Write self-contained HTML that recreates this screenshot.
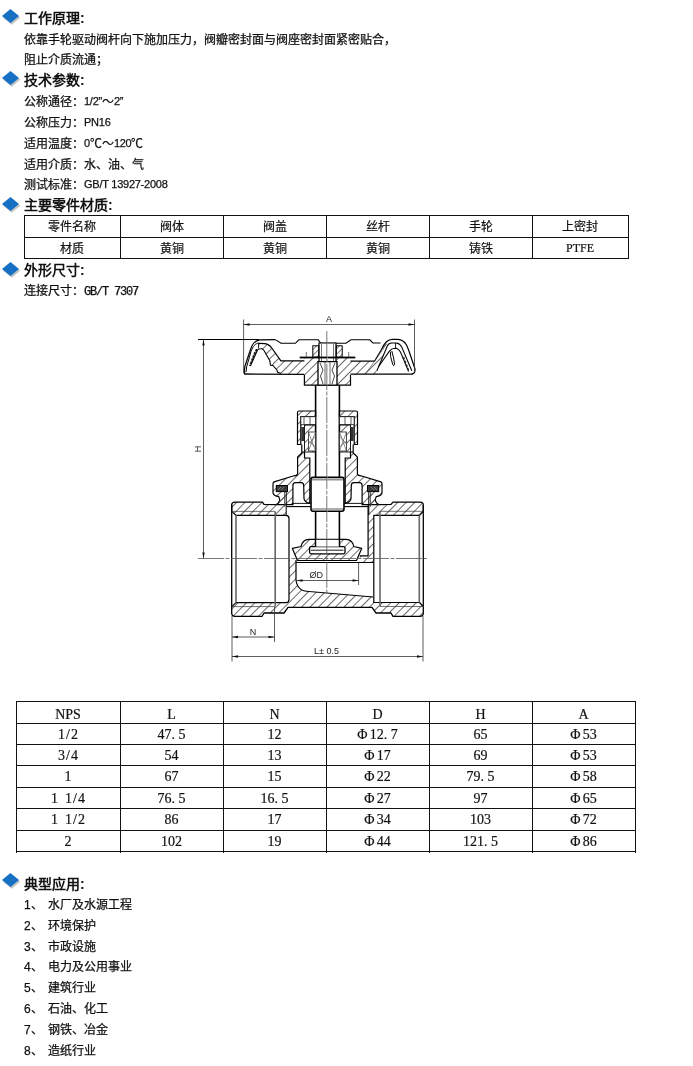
<!DOCTYPE html>
<html lang="zh-CN"><head><meta charset="utf-8">
<style>
html,body{margin:0;padding:0;background:#fff;}
body{will-change:transform;width:693px;height:1066px;position:relative;overflow:hidden;font-family:"Liberation Sans",sans-serif;color:#222;}
.t{position:absolute;white-space:nowrap;font-size:12px;line-height:16px;color:#111;-webkit-text-stroke:0.25px #111;}
.h{position:absolute;white-space:nowrap;font-size:14px;line-height:18px;font-weight:bold;color:#111;}
.dm{position:absolute;left:2px;width:17px;height:14px;}
.dm svg{display:block;overflow:visible}
table.m{position:absolute;border-collapse:collapse;font-size:12px;}
table.m td{border:1px solid #111;text-align:center;padding:0;}
.ln{position:absolute;background:#111;}
.c{position:absolute;text-align:center;font-size:12px;line-height:21px;white-space:nowrap;color:#111;-webkit-text-stroke:0.2px #111;}
.c2{position:absolute;text-align:center;font-size:14px;line-height:21px;white-space:pre;font-family:"Liberation Serif",serif;color:#111;-webkit-text-stroke:0.2px #111;}
.sm{font-family:"Liberation Mono",monospace;font-size:12px;letter-spacing:-1.2px;}
.ph{margin-right:2.5px}
.lat{font-size:11px;letter-spacing:-0.25px;position:relative;top:-1px}
.sl{margin:0 1px}
.ser{font-family:"Liberation Mono",monospace;}
</style></head><body>

<div class="dm" style="top:9px"><svg width="17" height="14"><polygon points="9.7,1.8 18.2,8.8 9.7,15.8 1.2,8.8" fill="#c4c4c4"/><polygon points="8.5,0 17,7 8.5,14 0,7" fill="#1670c4"/></svg></div>
<div class="h" style="left:24px;top:9px">工作原理:</div>
<div class="t" style="left:24px;top:32px">依靠手轮驱动阀杆向下施加压力，阀瓣密封面与阀座密封面紧密贴合，</div>
<div class="t" style="left:24px;top:52px">阻止介质流通；</div>

<div class="dm" style="top:71px"><svg width="17" height="14"><polygon points="9.7,1.8 18.2,8.8 9.7,15.8 1.2,8.8" fill="#c4c4c4"/><polygon points="8.5,0 17,7 8.5,14 0,7" fill="#1670c4"/></svg></div>
<div class="h" style="left:24px;top:71px">技术参数:</div>
<div class="t" style="left:24px;top:94px">公称通径：<span class="lat">1/2”</span>～<span class="lat">2”</span></div>
<div class="t" style="left:24px;top:115px">公称压力：<span class="lat">PN16</span></div>
<div class="t" style="left:24px;top:136px">适用温度：<span class="lat">0</span>℃～<span class="lat">120</span>℃</div>
<div class="t" style="left:24px;top:157px">适用介质：水、油、气</div>
<div class="t" style="left:24px;top:177px">测试标准：<span class="lat">GB/T 13927-2008</span></div>

<div class="dm" style="top:197px"><svg width="17" height="14"><polygon points="9.7,1.8 18.2,8.8 9.7,15.8 1.2,8.8" fill="#c4c4c4"/><polygon points="8.5,0 17,7 8.5,14 0,7" fill="#1670c4"/></svg></div>
<div class="h" style="left:24px;top:196px">主要零件材质:</div>

<div class="dm" style="top:262px"><svg width="17" height="14"><polygon points="9.7,1.8 18.2,8.8 9.7,15.8 1.2,8.8" fill="#c4c4c4"/><polygon points="8.5,0 17,7 8.5,14 0,7" fill="#1670c4"/></svg></div>
<div class="h" style="left:24px;top:261px">外形尺寸:</div>
<div class="t" style="left:24px;top:283px">连接尺寸：<span class="sm">GB/T 7307</span></div>

<div class="dm" style="top:873px"><svg width="17" height="14"><polygon points="9.7,1.8 18.2,8.8 9.7,15.8 1.2,8.8" fill="#c4c4c4"/><polygon points="8.5,0 17,7 8.5,14 0,7" fill="#1670c4"/></svg></div>
<div class="h" style="left:24px;top:875px">典型应用:</div>
<div class="t" style="left:24px;top:897px">1、</div><div class="t" style="left:48px;top:897px">水厂及水源工程</div>
<div class="t" style="left:24px;top:918px">2、</div><div class="t" style="left:48px;top:918px">环境保护</div>
<div class="t" style="left:24px;top:939px">3、</div><div class="t" style="left:48px;top:939px">市政设施</div>
<div class="t" style="left:24px;top:959px">4、</div><div class="t" style="left:48px;top:959px">电力及公用事业</div>
<div class="t" style="left:24px;top:980px">5、</div><div class="t" style="left:48px;top:980px">建筑行业</div>
<div class="t" style="left:24px;top:1001px">6、</div><div class="t" style="left:48px;top:1001px">石油、化工</div>
<div class="t" style="left:24px;top:1022px">7、</div><div class="t" style="left:48px;top:1022px">钢铁、冶金</div>
<div class="t" style="left:24px;top:1043px">8、</div><div class="t" style="left:48px;top:1043px">造纸行业</div>

<!--TABLES-->
<div class="ln" style="left:24px;top:215px;width:1px;height:44px"></div>
<div class="ln" style="left:120px;top:215px;width:1px;height:44px"></div>
<div class="ln" style="left:223px;top:215px;width:1px;height:44px"></div>
<div class="ln" style="left:326px;top:215px;width:1px;height:44px"></div>
<div class="ln" style="left:429px;top:215px;width:1px;height:44px"></div>
<div class="ln" style="left:532px;top:215px;width:1px;height:44px"></div>
<div class="ln" style="left:628px;top:215px;width:1px;height:44px"></div>
<div class="ln" style="left:24px;top:215px;width:605px;height:1px"></div>
<div class="ln" style="left:24px;top:237px;width:605px;height:1px"></div>
<div class="ln" style="left:24px;top:258px;width:605px;height:1px"></div>
<div class="c" style="left:24px;top:217px;width:96px">零件名称</div>
<div class="c" style="left:24px;top:238.5px;width:96px">材质</div>
<div class="c" style="left:120px;top:217px;width:103px">阀体</div>
<div class="c" style="left:120px;top:238.5px;width:103px">黄铜</div>
<div class="c" style="left:223px;top:217px;width:103px">阀盖</div>
<div class="c" style="left:223px;top:238.5px;width:103px">黄铜</div>
<div class="c" style="left:326px;top:217px;width:103px">丝杆</div>
<div class="c" style="left:326px;top:238.5px;width:103px">黄铜</div>
<div class="c" style="left:429px;top:217px;width:103px">手轮</div>
<div class="c" style="left:429px;top:238.5px;width:103px">铸铁</div>
<div class="c" style="left:532px;top:217px;width:96px">上密封</div>
<div class="c" style="left:532px;top:238.5px;width:96px"><span style="font-family:'Liberation Serif',serif;font-size:12px;position:relative;top:-1px">PTFE</span></div>
<div class="ln" style="left:16px;top:701px;width:1px;height:152px"></div>
<div class="ln" style="left:120px;top:701px;width:1px;height:152px"></div>
<div class="ln" style="left:223px;top:701px;width:1px;height:152px"></div>
<div class="ln" style="left:326px;top:701px;width:1px;height:152px"></div>
<div class="ln" style="left:429px;top:701px;width:1px;height:152px"></div>
<div class="ln" style="left:532px;top:701px;width:1px;height:152px"></div>
<div class="ln" style="left:635px;top:701px;width:1px;height:152px"></div>
<div class="ln" style="left:16px;top:701px;width:620px;height:1px"></div>
<div class="ln" style="left:16px;top:723px;width:620px;height:1px"></div>
<div class="ln" style="left:16px;top:744px;width:620px;height:1px"></div>
<div class="ln" style="left:16px;top:765px;width:620px;height:1px"></div>
<div class="ln" style="left:16px;top:787px;width:620px;height:1px"></div>
<div class="ln" style="left:16px;top:808px;width:620px;height:1px"></div>
<div class="ln" style="left:16px;top:830px;width:620px;height:1px"></div>
<div class="ln" style="left:16px;top:851px;width:620px;height:1px"></div>
<div class="c2" style="left:16px;top:704px;width:104px">NPS</div>
<div class="c2" style="left:120px;top:704px;width:103px">L</div>
<div class="c2" style="left:223px;top:704px;width:103px">N</div>
<div class="c2" style="left:326px;top:704px;width:103px">D</div>
<div class="c2" style="left:429px;top:704px;width:103px">H</div>
<div class="c2" style="left:532px;top:704px;width:103px">A</div>
<div class="c2" style="left:16px;top:724px;width:104px">1<span class="sl">/</span>2</div>
<div class="c2" style="left:120px;top:724px;width:103px">47. 5</div>
<div class="c2" style="left:223px;top:724px;width:103px">12</div>
<div class="c2" style="left:326px;top:724px;width:103px"><span class="ph">Φ</span>12. 7</div>
<div class="c2" style="left:429px;top:724px;width:103px">65</div>
<div class="c2" style="left:532px;top:724px;width:103px"><span class="ph">Φ</span>53</div>
<div class="c2" style="left:16px;top:745px;width:104px">3<span class="sl">/</span>4</div>
<div class="c2" style="left:120px;top:745px;width:103px">54</div>
<div class="c2" style="left:223px;top:745px;width:103px">13</div>
<div class="c2" style="left:326px;top:745px;width:103px"><span class="ph">Φ</span>17</div>
<div class="c2" style="left:429px;top:745px;width:103px">69</div>
<div class="c2" style="left:532px;top:745px;width:103px"><span class="ph">Φ</span>53</div>
<div class="c2" style="left:16px;top:766px;width:104px">1</div>
<div class="c2" style="left:120px;top:766px;width:103px">67</div>
<div class="c2" style="left:223px;top:766px;width:103px">15</div>
<div class="c2" style="left:326px;top:766px;width:103px"><span class="ph">Φ</span>22</div>
<div class="c2" style="left:429px;top:766px;width:103px">79. 5</div>
<div class="c2" style="left:532px;top:766px;width:103px"><span class="ph">Φ</span>58</div>
<div class="c2" style="left:16px;top:788px;width:104px">1  1<span class="sl">/</span>4</div>
<div class="c2" style="left:120px;top:788px;width:103px">76. 5</div>
<div class="c2" style="left:223px;top:788px;width:103px">16. 5</div>
<div class="c2" style="left:326px;top:788px;width:103px"><span class="ph">Φ</span>27</div>
<div class="c2" style="left:429px;top:788px;width:103px">97</div>
<div class="c2" style="left:532px;top:788px;width:103px"><span class="ph">Φ</span>65</div>
<div class="c2" style="left:16px;top:809px;width:104px">1  1<span class="sl">/</span>2</div>
<div class="c2" style="left:120px;top:809px;width:103px">86</div>
<div class="c2" style="left:223px;top:809px;width:103px">17</div>
<div class="c2" style="left:326px;top:809px;width:103px"><span class="ph">Φ</span>34</div>
<div class="c2" style="left:429px;top:809px;width:103px">103</div>
<div class="c2" style="left:532px;top:809px;width:103px"><span class="ph">Φ</span>72</div>
<div class="c2" style="left:16px;top:831px;width:104px">2</div>
<div class="c2" style="left:120px;top:831px;width:103px">102</div>
<div class="c2" style="left:223px;top:831px;width:103px">19</div>
<div class="c2" style="left:326px;top:831px;width:103px"><span class="ph">Φ</span>44</div>
<div class="c2" style="left:429px;top:831px;width:103px">121. 5</div>
<div class="c2" style="left:532px;top:831px;width:103px"><span class="ph">Φ</span>86</div>
<!--/TABLES-->
<!--DRAWING-->
<svg style="position:absolute;left:0;top:0" width="693" height="1066" viewBox="0 0 693 1066">
<defs>
<pattern id="hx" width="6" height="6" patternUnits="userSpaceOnUse" patternTransform="rotate(45)"><line x1="0.5" y1="-1" x2="0.5" y2="7" stroke="#3a3a3a" stroke-width="0.75"/></pattern>
<pattern id="hx2" width="4" height="4" patternUnits="userSpaceOnUse" patternTransform="rotate(45)"><line x1="0.5" y1="-1" x2="0.5" y2="5" stroke="#444" stroke-width="0.7"/></pattern>
</defs>
<!-- left hatched spoke + web + hub -->
<path d="M258.6,343.3 L265,343.6 C268,344 270,345.5 272.1,348.5 L280.9,360.8 L304.4,360.8 L304.4,357.5 L327.5,357.5 L327.5,385.2 L304.4,385.2 L304.4,374.9 L280.9,373.6 L277.7,372.3 L276.9,370 L272.9,365.5 L270.5,365.2 L269.7,360.4 L263,350 Q261.8,348.6 258.6,348.5 Z" fill="url(#hx)" stroke="none"/>
<path d="M258.6,343.3 L265,343.6 C268,344 270,345.5 272.1,348.5 L280.9,360.8 L304.4,360.8 M304.4,374.9 L304.4,385.2 L327.5,385.2" fill="none" stroke="#000" stroke-width="1.2"/>
<path d="M250.7,365.2 L257.5,350 Q258.5,348.5 261.8,348.7 Q263,349 264,350.5 L269.7,360.4 L270.5,365.2 L272.9,365.5 L276.9,370 L277.7,372.3 L280.9,373.4" fill="none" stroke="#000" stroke-width="1.1"/>
<line x1="258.6" y1="343.3" x2="258.6" y2="348.5" stroke="#000" stroke-width="0.9"/>
<!-- rim -->
<path d="M275.3,339.6 L259.4,339.8 C255.5,340.5 252.5,343 250.5,349.5 L245,366 Q244.2,369 244.3,373.9" fill="none" stroke="#000" stroke-width="1.2"/>
<path d="M259,343 C255,343.6 253,346 251,351.5 L246.7,366.7 L245.9,372.3" fill="none" stroke="#000" stroke-width="1"/>
<path d="M257,349.3 C254.5,353 252.5,359 249.9,366" fill="none" stroke="#111" stroke-width="1.9" stroke-dasharray="2.6 0.8"/>
<line x1="244" y1="374" x2="304.4" y2="374.3" stroke="#000" stroke-width="1.3"/>

<!-- top profile line -->
<path d="M275.3,339.6 L281,343.3 L295.4,343.3 L298.9,339.8 L318.2,339.8 L320.8,343.3 L345.9,343.3 L351,339.8 L369.8,339.8 L372.9,343 L380.5,343" fill="none" stroke="#000" stroke-width="1.1"/>
<!-- right hatched web + spoke -->
<path d="M327.5,357.5 L350.5,357.5 L350.5,361.2 L374.5,361.2 L380.9,350.9 L384.8,343.7 L388.8,343.7 L376.9,370.7 L375.5,374 L350.5,374.6 L350.5,385.2 L327.5,385.2 Z" fill="url(#hx)" stroke="none"/>
<path d="M350.5,361.2 L374.5,361.2 M350.5,374.9 L350.5,385.2 L327.5,385.2" fill="none" stroke="#000" stroke-width="1.2"/>
<line x1="350.5" y1="374.2" x2="412.5" y2="374.2" stroke="#000" stroke-width="1.3"/>
<!-- right rim -->
<path d="M374.5,361.2 L381.5,349.5 C383.5,345 386.5,339.4 392,339.4 L396.7,339.4 C401,339.4 404.5,341.5 406.5,345 C408,348 409,351 410.5,355.5 L415,369 Q415.5,373.9 411.5,374" fill="none" stroke="#000" stroke-width="1.2"/>
<path d="M376.9,370.7 L387.3,346 Q388.8,343 391.5,343 L396,343 Q399.5,343.2 401.5,346.5 L411.8,370.7" fill="none" stroke="#000" stroke-width="1.05"/>
<path d="M378.5,366.7 L389.6,350.9 Q392,348.3 395.2,348.3 Q398.5,348.5 400.7,352.5 L408.6,371.5" fill="none" stroke="#000" stroke-width="1.05"/>
<path d="M390.4,351.7 Q390,356 392,362 Q393.5,367.5 394.6,364.5 Q394,358 391.8,351" fill="none" stroke="#000" stroke-width="1"/>
<path d="M403.5,357 L408.5,370" fill="none" stroke="#222" stroke-width="1.3" stroke-dasharray="2.5 1.5"/>
<line x1="395.6" y1="343" x2="395.6" y2="348.3" stroke="#000" stroke-width="0.9"/>
<line x1="366.6" y1="372.3" x2="386" y2="345" stroke="#444" stroke-width="0.6"/>

<!-- nut -->
  <path d="M327.5,343 L319,343 L319,361.7 L327.5,361.7" fill="#fff" stroke="#000" stroke-width="1.2"/>
  <line x1="321.5" y1="343.5" x2="321.5" y2="361" stroke="#555" stroke-width="0.8"/>
  <!-- washer box -->
  <rect x="312.8" y="345.8" width="5.9" height="11.4" fill="url(#hx2)" stroke="#000" stroke-width="1"/>
  <!-- plate -->
  <line x1="299.7" y1="357.5" x2="327.5" y2="357.5" stroke="#000" stroke-width="1.8"/>
  <line x1="306.3" y1="352" x2="306.3" y2="357" stroke="#333" stroke-width="0.7"/>
  <!-- square stem end with knurl -->
  <path d="M327.5,361.7 L318,361.7 L318,385.2 L327.5,385.2" fill="#fff" stroke="#000" stroke-width="1.3"/>
  <path d="M320,363 L323,370 L320.5,376 L323,384" fill="none" stroke="#333" stroke-width="0.9"/>
  <line x1="325" y1="362" x2="325" y2="385" stroke="#444" stroke-width="0.8"/>
  <!-- stem -->
  <line x1="315.6" y1="385.2" x2="315.6" y2="477.5" stroke="#000" stroke-width="1.6"/>
  <!-- gland nut -->
  <path d="M297.5,444.5 L297.5,412.5 Q297.5,411 299,411 L315.6,411 L315.6,416.7 L300.8,416.7 L300.8,444.5 Z" fill="url(#hx)" stroke="#000" stroke-width="1.2"/>
  <rect x="300.8" y="416.7" width="14.8" height="8" fill="#fff" stroke="#222" stroke-width="0.9"/>
  <line x1="304" y1="417" x2="304" y2="424.5" stroke="#333" stroke-width="0.8"/>
  <line x1="310" y1="417" x2="310" y2="424.5" stroke="#333" stroke-width="0.8"/>
  <rect x="301.3" y="427" width="2.8" height="14" fill="#333"/>
  <path d="M304.5,425 L304.5,452 L315.6,452 L315.6,425 Z" fill="url(#hx)" stroke="#000" stroke-width="0.9"/>
  <rect x="308.5" y="432" width="7" height="19" fill="#fff" stroke="#222" stroke-width="0.8"/>
  <path d="M308.5,432 L315.5,451 M315.5,432 L308.5,451 M308.5,441 L315.5,447 M315.5,436 L308.5,444" stroke="#444" stroke-width="0.6"/>
  <!-- bonnet -->
  <path d="M301.8,444.5 L301.8,453 L297.6,457 L297.6,474 Q297,475.8 294,475.8 L274.1,481.9 Q273,482.5 273,484 L273,493 Q274,496 278.8,496.7 Q280,499 279.5,501 Q278,504.3 276,504.6 L292.9,504.6 L292.9,485.5 Q292.9,482.6 295.5,482.6 L301.5,482.6 Q303.7,483 303.7,485.5 L304,498.9 Q305,502.5 309.8,503.2 L309.8,458 L304.5,458 L304.5,452 L301.8,452 Z" fill="url(#hx)" stroke="#000" stroke-width="1.2"/>
  <rect x="276.3" y="485.5" width="11.2" height="6.1" fill="#3a3a3a" stroke="#000" stroke-width="1"/>
  <path d="M278,490 L281,487 M281,490 L284,487" stroke="#aaa" stroke-width="0.6"/>
  <line x1="286.2" y1="491.6" x2="286.2" y2="515" stroke="#000" stroke-width="1"/>
  <line x1="284.6" y1="491.6" x2="284.6" y2="506.8" stroke="#333" stroke-width="0.8"/>
  <!-- bonnet bottom line -->
  <line x1="291.5" y1="503.4" x2="311" y2="503.4" stroke="#000" stroke-width="0.9"/>
  <line x1="286.2" y1="506.6" x2="311" y2="506.6" stroke="#000" stroke-width="1.1"/>
  <!-- threaded stem section -->
  <path d="M327.5,477.4 L313,477.4 Q311,477.4 311,479.5 L311,509 Q311,511.2 313,511.2 L327.5,511.2" fill="#fff" stroke="#000" stroke-width="1.6"/>
  <line x1="312" y1="479.8" x2="327.5" y2="479.8" stroke="#777" stroke-width="1.2"/>
  <line x1="312" y1="509" x2="327.5" y2="509" stroke="#777" stroke-width="1.2"/>
  <line x1="315.6" y1="511.2" x2="315.6" y2="546" stroke="#000" stroke-width="1.6"/>

<path d="M327.50,343 L336.00,343 L336.00,361.7 L327.50,361.7" fill="#fff" stroke="#000" stroke-width="1.2"/>
<line x1="333.50" y1="343.5" x2="333.50" y2="361" stroke="#555" stroke-width="0.8"/>
<rect x="336.30" y="345.8" width="5.9" height="11.4" fill="url(#hx2)" stroke="#000" stroke-width="1"/>
<line x1="355.30" y1="357.5" x2="327.50" y2="357.5" stroke="#000" stroke-width="1.8"/>
<line x1="348.70" y1="352" x2="348.70" y2="357" stroke="#333" stroke-width="0.7"/>
<path d="M327.50,361.7 L337.00,361.7 L337.00,385.2 L327.50,385.2" fill="#fff" stroke="#000" stroke-width="1.3"/>
<path d="M335.00,363 L332.00,370 L334.50,376 L332.00,384" fill="none" stroke="#333" stroke-width="0.9"/>
<line x1="330.00" y1="362" x2="330.00" y2="385" stroke="#444" stroke-width="0.8"/>
<line x1="339.40" y1="385.2" x2="339.40" y2="477.5" stroke="#000" stroke-width="1.6"/>
<path d="M357.50,444.5 L357.50,412.5 Q357.50,411 356.00,411 L339.40,411 L339.40,416.7 L354.20,416.7 L354.20,444.5 Z" fill="url(#hx)" stroke="#000" stroke-width="1.2"/>
<rect x="339.40" y="416.7" width="14.8" height="8" fill="#fff" stroke="#222" stroke-width="0.9"/>
<line x1="351.00" y1="417" x2="351.00" y2="424.5" stroke="#333" stroke-width="0.8"/>
<line x1="345.00" y1="417" x2="345.00" y2="424.5" stroke="#333" stroke-width="0.8"/>
<rect x="350.90" y="427" width="2.8" height="14" fill="#333"/>
<path d="M350.50,425 L350.50,452 L339.40,452 L339.40,425 Z" fill="url(#hx)" stroke="#000" stroke-width="0.9"/>
<rect x="339.50" y="432" width="7" height="19" fill="#fff" stroke="#222" stroke-width="0.8"/>
<path d="M346.50,432 L339.50,451 M339.50,432 L346.50,451 M346.50,441 L339.50,447 M339.50,436 L346.50,444" stroke="#444" stroke-width="0.6"/>
<path d="M353.20,444.5 L353.20,453 L357.40,457 L357.40,474 Q358.00,475.8 361.00,475.8 L380.90,481.9 Q382.00,482.5 382.00,484 L382.00,493 Q381.00,496 376.20,496.7 Q375.00,499 375.50,501 Q377.00,504.3 379.00,504.6 L362.10,504.6 L362.10,485.5 Q362.10,482.6 359.50,482.6 L353.50,482.6 Q351.30,483 351.30,485.5 L351.00,498.9 Q350.00,502.5 345.20,503.2 L345.20,458 L350.50,458 L350.50,452 L353.20,452 Z" fill="url(#hx)" stroke="#000" stroke-width="1.2"/>
<rect x="367.50" y="485.5" width="11.2" height="6.1" fill="#3a3a3a" stroke="#000" stroke-width="1"/>
<path d="M377.00,490 L374.00,487 M374.00,490 L371.00,487" stroke="#aaa" stroke-width="0.6"/>
<line x1="368.80" y1="491.6" x2="368.80" y2="515" stroke="#000" stroke-width="1"/>
<line x1="370.40" y1="491.6" x2="370.40" y2="506.8" stroke="#333" stroke-width="0.8"/>
<line x1="363.50" y1="503.4" x2="344.00" y2="503.4" stroke="#000" stroke-width="0.9"/>
<line x1="368.80" y1="506.6" x2="344.00" y2="506.6" stroke="#000" stroke-width="1.1"/>
<path d="M327.50,477.4 L342.00,477.4 Q344.00,477.4 344.00,479.5 L344.00,509 Q344.00,511.2 342.00,511.2 L327.50,511.2" fill="#fff" stroke="#000" stroke-width="1.6"/>
<line x1="343.00" y1="479.8" x2="327.50" y2="479.8" stroke="#777" stroke-width="1.2"/>
<line x1="343.00" y1="509" x2="327.50" y2="509" stroke="#777" stroke-width="1.2"/>
<line x1="339.40" y1="511.2" x2="339.40" y2="546" stroke="#000" stroke-width="1.6"/>
<!-- ===== BODY ===== -->
<g stroke-linejoin="round">
  <!-- left top wall hatch -->
  <path d="M231.7,511.4 L231.7,505 Q231.7,502.1 235,502.1 L262.5,502.1 L264,504.4 L276,504.6 Q279.5,503 279.5,500 L279.5,497 L284.6,491.6 L286.2,491.6 L286.2,515.4 L236,515.4 Z" fill="url(#hx)" stroke="none"/>
  <path d="M231.7,511.4 L231.7,505 Q231.7,502.1 235,502.1 L262.5,502.1 L264,504.4 L276,504.6" fill="none" stroke="#000" stroke-width="1.3"/>
  <!-- right top wall + chamber wall hatch -->
  <path d="M368.1,504.6 L370.4,491.6 L375.5,497 L375.5,500 Q375.5,503 379,504.6 L391,504.4 L393,502.1 L420,502.1 Q423.3,502.1 423.3,505 L423.3,511.3 L419.5,515.3 L373.8,515.3 L373.8,562.5 L359.7,562.5 L359.7,555.8 L368.1,555.8 Z" fill="url(#hx)" stroke="none"/>
  <path d="M379,504.6 L391,504.4 L393,502.1 L420,502.1 Q423.3,502.1 423.3,505 L423.3,511.3" fill="none" stroke="#000" stroke-width="1.3"/>
  <path d="M368.1,505 L368.1,555.8 L359.7,555.8" fill="none" stroke="#000" stroke-width="1.2"/>
  <!-- bottom hatch -->
  <path d="M231.7,606.6 L236,602.6 L286,602.6 Q289,602.6 289,599.5 L289,560 L296,560 L296,580 C297,588 302,591.5 309,591.5 L373.2,597 L373.8,602.5 L419.5,602.5 L423.3,606.5 L423.3,613 Q423.3,616.4 420,616.4 L393,616.4 L391,613 L376,613 L372,607.4 L288,607.4 L284,613 L264,613 L262,616.4 L235,616.4 Q231.7,616.4 231.7,613 Z" fill="url(#hx)" stroke="none"/>
  <path d="M423.3,606.5 L423.3,613 Q423.3,616.4 420,616.4 L393,616.4 L391,613 L376,613 L372,607.4 L288,607.4 L284,613 L264,613 L262,616.4 L235,616.4 Q231.7,616.4 231.7,613 L231.7,505" fill="none" stroke="#000" stroke-width="1.3"/>
  <path d="M423.3,505 L423.3,606.5" fill="none" stroke="#000" stroke-width="1.3"/>
  <!-- left bore -->
  <path d="M231.7,511.4 L236,515.4 L286,515.4 Q289,515.4 289,518.5 L289,599.5 Q289,602.6 286,602.6 L236,602.6 L231.7,606.6" fill="none" stroke="#000" stroke-width="1.2"/>
  <line x1="231.7" y1="511.4" x2="275" y2="511.4" stroke="#333" stroke-width="0.7"/>
  <line x1="231.7" y1="606.6" x2="275" y2="606.6" stroke="#333" stroke-width="0.7"/>
  <line x1="236" y1="515.4" x2="236" y2="602.6" stroke="#666" stroke-width="1.6"/>
  <line x1="275.2" y1="511.4" x2="275.2" y2="606.6" stroke="#666" stroke-width="1.6"/>
  <!-- right bore -->
  <path d="M423.3,511.3 L419.5,515.3 L373.8,515.3 L373.8,602.5 L419.5,602.5 L423.3,606.5" fill="none" stroke="#000" stroke-width="1.2"/>
  <line x1="380" y1="511.3" x2="423.3" y2="511.3" stroke="#333" stroke-width="0.7"/>
  <line x1="380" y1="606.5" x2="423.3" y2="606.5" stroke="#333" stroke-width="0.7"/>
  <line x1="380" y1="511.3" x2="380" y2="606.5" stroke="#666" stroke-width="1.6"/>
  <line x1="419.3" y1="515.3" x2="419.3" y2="602.5" stroke="#666" stroke-width="1.6"/>
  <!-- seat / bore under disc -->
  <path d="M296,560 L296,580 C297,588 302,591.5 309,591.5 L373.2,597" fill="none" stroke="#000" stroke-width="1.2"/>
  <line x1="296" y1="562.5" x2="373.8" y2="562.5" stroke="#000" stroke-width="1"/>
  <!-- disc -->
  <path d="M292.4,548.4 L301,546.5 Q302.5,539.5 309,539.3 L346,539.3 Q352.5,539.5 353.8,546.5 L361.7,548.4 L356.5,560.5 L297.5,560.5 Z" fill="url(#hx)" stroke="#000" stroke-width="1.2"/>
  <rect x="309.6" y="546.6" width="35.4" height="7.2" rx="1.5" fill="#fff" stroke="#000" stroke-width="1.3"/>
  <line x1="311" y1="550.2" x2="343.5" y2="550.2" stroke="#000" stroke-width="0.9"/>
  <rect x="315.6" y="539.8" width="23.8" height="6.8" fill="#fff" stroke="none"/>
  <line x1="315.6" y1="539" x2="315.6" y2="546.6" stroke="#000" stroke-width="1.3"/>
  <line x1="339.4" y1="539" x2="339.4" y2="546.6" stroke="#000" stroke-width="1.3"/>
</g>

<!-- ===== DIMENSIONS ===== -->
<g stroke="#333" stroke-width="0.8" fill="none">
  <line x1="243.6" y1="319.5" x2="243.6" y2="373"/>
  <line x1="414.5" y1="319.5" x2="414.5" y2="372"/>
  <line x1="243.6" y1="324.5" x2="414.5" y2="324.5"/>
  <line x1="198" y1="339.5" x2="259" y2="339.5" stroke="#000" stroke-width="1.1"/>
  <line x1="203.5" y1="339.5" x2="203.5" y2="558.5"/>
  <line x1="198" y1="558.5" x2="427" y2="558.5" stroke="#555" stroke-dasharray="26 1.5 4 1.5"/>
  <line x1="326.8" y1="331" x2="326.8" y2="593" stroke="#555" stroke-dasharray="26 1.5 4 1.5"/>
  <line x1="232" y1="616" x2="232" y2="661.5"/>
  <line x1="274.5" y1="607" x2="274.5" y2="642"/>
  <line x1="423" y1="616" x2="423" y2="661.5"/>
  <line x1="232" y1="637" x2="274.5" y2="637"/>
  <line x1="232" y1="656.5" x2="423" y2="656.5"/>
  <line x1="296.6" y1="580.5" x2="358.6" y2="580.5"/>
  <line x1="358.6" y1="562.5" x2="358.6" y2="585"/>
</g>
<g fill="#111">
  <path d="M243.6,324.5 l6,-1.2 l0,2.4z M414.5,324.5 l-6,-1.2 l0,2.4z"/>
  <path d="M203.5,339.5 l-1.2,6 l2.4,0z M203.5,558.5 l-1.2,-6 l2.4,0z"/>
  <path d="M232,637 l6,-1.2 l0,2.4z M274.5,637 l-6,-1.2 l0,2.4z"/>
  <path d="M232,656.5 l6,-1.2 l0,2.4z M423,656.5 l-6,-1.2 l0,2.4z"/>
  <path d="M296.6,580.5 l6,-1.2 l0,2.4z M358.6,580.5 l-6,-1.2 l0,2.4z"/>
</g>
<g font-family="Liberation Sans, sans-serif" font-size="9" fill="#222">
  <text x="329" y="322" text-anchor="middle">A</text>
  <text x="253" y="634.5" text-anchor="middle">N</text>
  <text x="314" y="654">L± 0.5</text>
  <text x="309.5" y="578">ØD</text>
  <text transform="translate(200.5,449) rotate(-90)" text-anchor="middle">H</text>
</g>


</svg>
<!--/DRAWING-->
</body></html>
